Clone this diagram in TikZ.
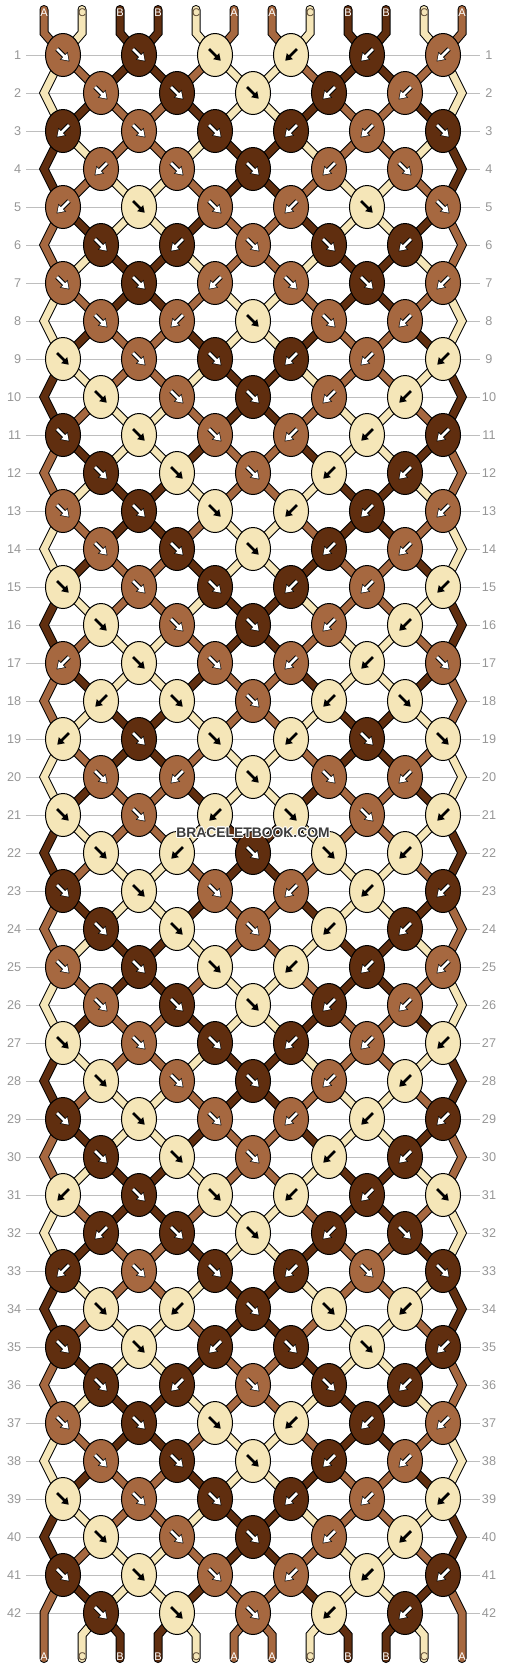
\documentclass[tikz,border=0pt]{standalone}
\usepackage{fontspec}
\setsansfont{Liberation Sans}
\usepackage{contour}
\usetikzlibrary{shapes.geometric,arrows.meta}

\definecolor{cA}{RGB}{166,104,64}
\definecolor{cB}{RGB}{96,46,15}
\definecolor{cC}{RGB}{245,230,184}
\colorlet{aA}{white}\colorlet{aB}{white}\colorlet{aC}{black}
\colorlet{oA}{black}\colorlet{oB}{black}\colorlet{oC}{cC}
\colorlet{tA}{white}\colorlet{tB}{white}\definecolor{tC}{RGB}{90,70,50}
\definecolor{gridgray}{RGB}{190,190,190}
\definecolor{numgray}{RGB}{150,150,150}
\definecolor{wmgray}{RGB}{60,60,60}
\def\dirR{1}
\def\dirL{-1}
\contourlength{0.6pt}

\begin{document}
\begin{tikzpicture}[x=0.75pt,y=-0.75pt,
    declare function={sp(\n)=ifthenelse(mod(\n-1,24)<12,mod(\n-1,24)+1,24-mod(\n-1,24));
                      sx(\n)=44+38*(sp(\n)-1);},
    rowline/.style={draw=gridgray,line width=0.75pt},
    rownum/.style={text=numgray,font=\sffamily\fontsize{9.5}{10}\selectfont,inner sep=0pt},
    strand/.style={draw=black,line width=0.75pt,double distance=5.25pt,line cap=round},
    strlabel/.style={font=\sffamily\fontsize{8.3}{9}\selectfont,inner sep=0pt},
    knot/.style={ellipse,draw=black,line width=0.75pt,minimum width=26.25pt,minimum height=32.25pt,inner sep=0pt},
    arrback/.style={line width=3.6pt,-{Triangle[length=6.2pt,width=7.8pt]}},
    arrfront/.style={line width=2.1pt,shorten >=0.8pt,-{Triangle[length=4.8pt,width=6pt]}}]

  \useasboundingbox (0,0) rectangle (506,1668);

  % row guides
  \foreach \r in {1,...,42}{
    \draw[rowline] (26,{55+38*(\r-1)}) -- (480,{55+38*(\r-1)});
    \node[rownum,anchor=east] (nl\r) at (21.5,{55+38*(\r-1)}) {\r};
    \node[rownum] (nr\r) at (489,{55+38*(\r-1)}) {\r};
  }

  % strings
  \foreach \s/\c in {1/A,2/C,3/B,4/B,5/C,6/A,7/A,8/C,9/B,10/B,11/C,12/A}{
    \pgfmathtruncatemacro\st{ifthenelse(mod(\s,2)==1,\s,25-\s)}
    \draw[strand,double=c\c] ({sx(\st)},9.5) -- ({sx(\st)},33)
      \foreach \r in {1,...,42}{ -- ({(sx(\st+\r-1)+sx(\st+\r))/2},{55+38*(\r-1)}) }
      -- ({sx(\st+42)},1635) -- ({sx(\st+42)},1658.5);
    \node[strlabel,text=t\c] (top\s) at ({sx(\st)},12.2) {\c};
    \node[strlabel,text=t\c] (bot\s) at ({sx(\st+42)},1657) {\c};
  }

  % knots
  \foreach \ks [count=\r] in {
    {A/R,B/R,C/R,C/L,B/L,A/L},
    {A/R,B/R,C/R,B/L,A/L},
    {B/L,A/R,B/R,B/L,A/L,B/R},
    {A/L,A/R,B/R,A/L,A/R},
    {A/L,C/R,A/R,A/L,C/R,A/R},
    {B/R,B/L,A/R,B/R,B/L},
    {A/R,B/R,A/L,A/R,B/R,A/L},
    {A/R,A/L,C/R,A/R,A/L},
    {C/R,A/R,B/R,B/L,A/L,C/L},
    {C/R,A/R,B/R,A/L,C/L},
    {B/R,C/R,A/R,A/L,C/L,B/L},
    {B/R,C/R,A/R,C/L,B/L},
    {A/R,B/R,C/R,C/L,B/L,A/L},
    {A/R,B/R,C/R,B/L,A/L},
    {C/R,A/R,B/R,B/L,A/L,C/L},
    {C/R,A/R,B/R,A/L,C/L},
    {A/L,C/R,A/R,A/L,C/L,A/R},
    {C/L,C/R,A/R,C/L,C/R},
    {C/L,B/R,C/R,C/L,B/R,C/R},
    {A/R,A/L,C/R,A/R,A/L},
    {C/R,A/R,C/L,C/R,A/R,C/L},
    {C/R,C/L,B/R,C/R,C/L},
    {B/R,C/R,A/R,A/L,C/L,B/L},
    {B/R,C/R,A/R,C/L,B/L},
    {A/R,B/R,C/R,C/L,B/L,A/L},
    {A/R,B/R,C/R,B/L,A/L},
    {C/R,A/R,B/R,B/L,A/L,C/L},
    {C/R,A/R,B/R,A/L,C/L},
    {B/R,C/R,A/R,A/L,C/L,B/L},
    {B/R,C/R,A/R,C/L,B/L},
    {C/L,B/R,C/R,C/L,B/L,C/R},
    {B/L,B/R,C/R,B/L,B/R},
    {B/L,A/R,B/R,B/L,A/R,B/R},
    {C/R,C/L,B/R,C/R,C/L},
    {B/R,C/R,B/L,B/R,C/R,B/L},
    {B/R,B/L,A/R,B/R,B/L},
    {A/R,B/R,C/R,C/L,B/L,A/L},
    {A/R,B/R,C/R,B/L,A/L},
    {C/R,A/R,B/R,B/L,A/L,C/L},
    {C/R,A/R,B/R,A/L,C/L},
    {B/R,C/R,A/R,A/L,C/L,B/L},
    {B/R,C/R,A/R,C/L,B/L}}{
    \foreach \c/\a [count=\i] in \ks {
      \pgfmathsetmacro\kx{63+38*(1-mod(\r,2))+76*(\i-1)}
      \pgfmathsetmacro\ky{55+38*(\r-1)}
      \edef\adir{\csname dir\a\endcsname}
      \node[knot,fill=c\c] (k\r-\i) at (\kx,\ky) {};
      \draw[arrback,draw=o\c] ([shift={(-6*\adir,-6)}]k\r-\i.center) -- ++(12.5*\adir,12.5);
      \draw[arrfront,draw=a\c] ([shift={(-6*\adir,-6)}]k\r-\i.center) -- ++(12.5*\adir,12.5);
    }
  }

  \node[font=\sffamily\bfseries\fontsize{10.4}{11}\selectfont,text=wmgray,inner sep=0pt] (mark) at (253,833.3) {\contour{white}{BRACELETBOOK.COM}};
\end{tikzpicture}
\end{document}
